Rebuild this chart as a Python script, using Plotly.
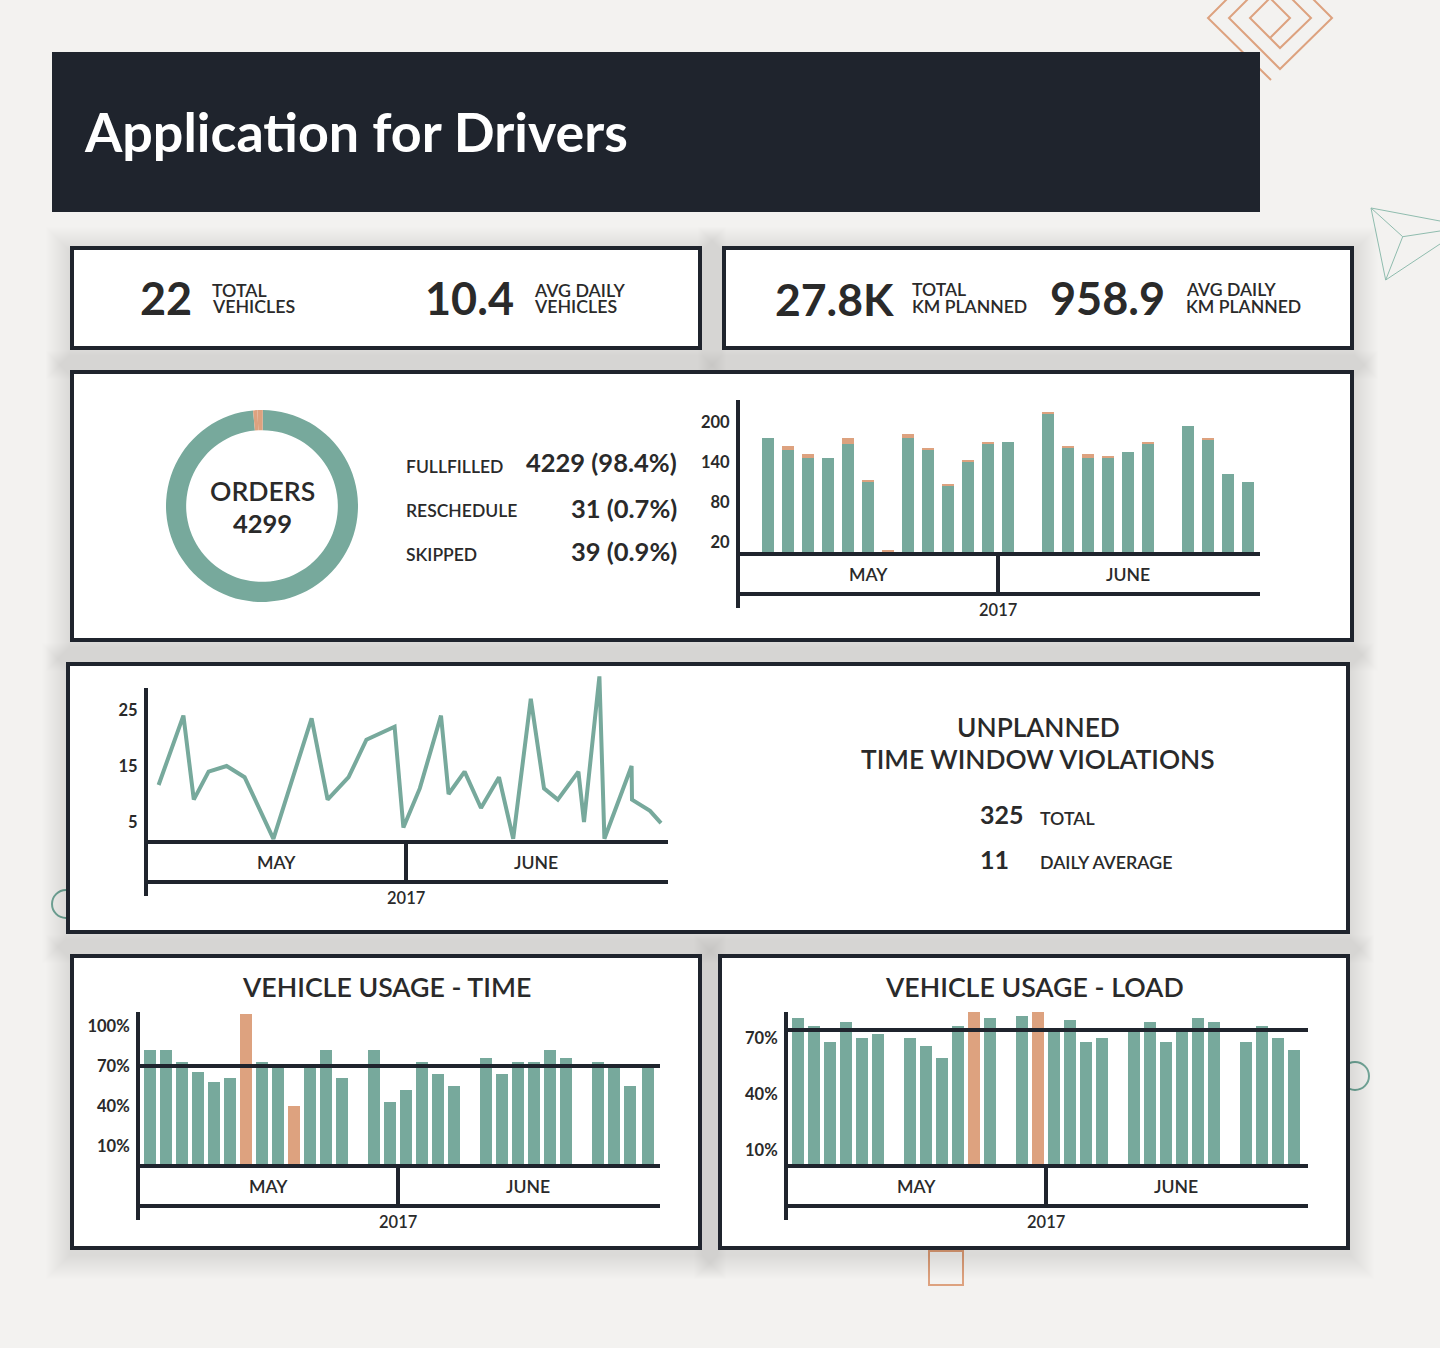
import plotly.graph_objects as go

# ---------- data ----------
order_labels = ["FULLFILLED", "RESCHEDULE", "SKIPPED"]
order_counts = [4229, 31, 39]
order_value_text = ["4229 (98.4%)", "31 (0.7%)", "39 (0.9%)"]

orders_days = list(range(25))
orders_done = [176, 158, 146, 146, 167, 110, 3, 176, 158, 104, 140, 167, 170, None,
               212, 161, 146, 146, 155, 167, None, 194, 173, 122, 110]
orders_other = [0, 6, 6, 0, 9, 3, 5, 6, 3, 3, 3, 3, 0, None,
                3, 3, 6, 3, 0, 3, None, 0, 3, 0, 0]
orders_ticks = [20, 80, 140, 200]

violation_days = [0.53, 1.77, 2.29, 3.03, 3.93, 4.83, 6.27, 8.18, 8.98, 10.03, 10.92, 12.33,
                  12.77, 13.59, 14.65, 15.03, 15.83, 16.65, 17.55, 18.26, 19.14, 19.8, 20.49,
                  21.52, 21.8, 22.57, 22.82, 24.18, 24.2, 25.1, 25.65]
violations = [11.6, 24, 9, 14, 15, 13, 2, 23.5, 9, 13, 19.7, 22, 4, 11, 24, 10, 14, 7.5, 13, 2,
              27, 11, 9, 14, 5, 31, 2, 15, 9, 7, 4.8]
violation_ticks = [5, 15, 25]

usage_time_days = [0, 1, 2, 3, 4, 5, 6, 7, 8, 9, 10, 11, 12, 13, 14, 15, 16, 17, 18, 19, 20,
                   21, 22, 23, 24, 25, 26, 27, 28, 29, 30, 31.12]
usage_time = [82, 82, 73, 65.5, 58, 61, 109, 73, 70, 40, 70, 82, 61, None,
              82, 43, 52, 73, 64, 55, None,
              76, 64, 73, 73, 82, 76, None,
              73, 70, 55, 70]
usage_time_flagged = [6, 9]
usage_time_ticks = [10, 40, 70, 100]
usage_time_target = 70

usage_load_days = list(range(32))
usage_load = [80.7, 76.4, 67.9, 78.6, 70, 72.2, None,
              70, 65.7, 59.3, 76.4, 84, 80.7, None,
              81.8, 84, 74.3, 79.6, 67.9, 70, None,
              74.3, 78.6, 67.9, 74.3, 80.7, 78.6, None,
              67.9, 76.4, 70, 63.6]
usage_load_flagged = [11, 15]
usage_load_ticks = [10, 40, 70]
usage_load_target = 74.3

# ---------- style ----------
W, H = 1440, 1348
BG = "#f3f2f0"
DARK = "#1f242d"
TEAL = "#77a99c"
ORANGE = "#dda27f"
INK = "#2a2a2a"
FONT = "Lato"

def px(x): return x / W
def py(y): return 1 - y / H

shapes, notes = [], []

def rect(x0, y0, x1, y1, fill="rgba(0,0,0,0)", color=None, width=0, layer="below"):
    shapes.append(dict(type="rect", xref="paper", yref="paper", x0=px(x0), x1=px(x1), y0=py(y1), y1=py(y0),
                       fillcolor=fill, line=dict(color=color or "rgba(0,0,0,0)", width=width), layer=layer))

def seg(x0, y0, x1, y1, color=DARK, width=4, layer="above"):
    shapes.append(dict(type="line", xref="paper", yref="paper", x0=px(x0), x1=px(x1), y0=py(y0), y1=py(y1),
                       line=dict(color=color, width=width), layer=layer))

def poly(points, color, width):
    path = "M " + " L ".join(f"{px(x):.5f},{py(y):.5f}" for x, y in points)
    shapes.append(dict(type="path", xref="paper", yref="paper", path=path, layer="below",
                       line=dict(color=color, width=width)))

def circle(cx, cy, r, color, width):
    shapes.append(dict(type="circle", xref="paper", yref="paper", x0=px(cx - r), x1=px(cx + r),
                       y0=py(cy + r), y1=py(cy - r), layer="below", line=dict(color=color, width=width)))

def txt(x, y, s, size, weight=600, anchor="left", color=INK):
    notes.append(dict(x=px(x), y=py(y), xref="paper", yref="paper", text=s, showarrow=False,
                      xanchor=anchor, yanchor="middle", align=anchor, borderpad=0,
                      font=dict(family=FONT, size=size, color=color, weight=weight)))

# decorations (below the panels and their shadows)
poly([(1270, 38), (1290, 18), (1270, -2), (1250, 18), (1280, 48), (1311, 18), (1270, -23), (1229, 18),
      (1280, 69), (1332, 18), (1270, -44), (1208, 18), (1271, 80)], ORANGE, 2)
poly([(1440, 221), (1371, 208), (1385.7, 280), (1440, 244)], "#8fbcae", 1)
poly([(1371, 208), (1402.7, 236.7), (1385.7, 280)], "#8fbcae", 1)
poly([(1402.7, 236.7), (1440, 231)], "#8fbcae", 1)
circle(66, 904, 14, TEAL, 2)
circle(1355, 1076, 14, TEAL, 2)
rect(929, 1251, 963, 1285, color=ORANGE, width=2)

panels = [(70, 246, 702, 350), (722, 246, 1354, 350), (70, 370, 1354, 642),
          (66, 662, 1350, 934), (70, 954, 702, 1250), (718, 954, 1350, 1250)]
for x0, y0, x1, y1 in panels:
    for i in range(1, 25):
        rect(x0 - i, y0 - i + 5, x1 + i, y1 + i + 5, fill="rgba(30,30,30,0.0038)")
for x0, y0, x1, y1 in panels:
    rect(x0 + 2, y0 + 2, x1 - 2, y1 - 2, fill="white", color=DARK, width=4)

# header
rect(52, 52, 1260, 212, fill=DARK)

# text
txt(83, 131, "Application for Drivers", 53.8, 700, color="white")
txt(139, 298, "22", 45, 700)
txt(211, 290, "TOTAL", 17.8)
txt(211, 306, "VEHICLES", 17.8)
txt(424, 298, "10.4", 45, 700)
txt(533, 290, "AVG DAILY", 17.8)
txt(533, 306, "VEHICLES", 17.8)
txt(774, 298, "27.8K", 44.5, 700)
txt(911, 290, "TOTAL", 17.6)
txt(911, 306, "KM PLANNED", 17.6)
txt(1049, 298, "958.9", 45, 700)
txt(1185, 290, "AVG DAILY", 17.6)
txt(1185, 306, "KM PLANNED", 17.6)
txt(262, 491, "ORDERS", 26.6, anchor="center")
txt(262, 523, str(sum(order_counts)), 25.5, 700, anchor="center")
for lab, val, yl, yv in zip(order_labels, order_value_text, [466, 510, 554], [462.5, 507.5, 550.5]):
    txt(405, yl, lab, 17.5)
    txt(678, yv, val, 25.5, 700, anchor="right")
txt(1038, 727, "UNPLANNED", 26.3, anchor="center")
txt(1038, 759, "TIME WINDOW VIOLATIONS", 26.3, anchor="center")
txt(979, 814.5, "325", 25, 700)
txt(1039, 818, "TOTAL", 17.8)
txt(979, 858.5, "11", 25, 700)
txt(1039, 862, "DAILY AVERAGE", 17.8)
txt(386, 987, "VEHICLE USAGE - TIME", 26.7, anchor="center")
txt(1034, 987, "VEHICLE USAGE - LOAD", 26.7, anchor="center")

def frame(left, top, base):
    """Month / year band under a chart whose plot starts at `left`."""
    axis = left - 2
    seg(axis, top, axis, base + 54)
    seg(axis, base, left + 520, base)
    seg(axis, base + 40, left + 520, base + 40)
    seg(left + 258, base, left + 258, base + 40)
    txt(left + 128, base + 20, "MAY", 17.6, anchor="center")
    txt(left + 388, base + 20, "JUNE", 17.6, anchor="center")
    txt(left + 258, base + 56, "2017", 16.5, anchor="center")

fig = go.Figure()

# donut
fig.add_trace(go.Pie(values=order_counts, labels=order_labels, hole=0.79, sort=False, direction="clockwise",
                     rotation=0.5, textinfo="none", showlegend=False,
                     marker=dict(colors=[TEAL, ORANGE, ORANGE], line=dict(width=0)),
                     domain=dict(x=[px(166), px(358)], y=[py(602), py(410)])))

def axes(n, left, base, top, xlo, xhi, ylo, yhi, ticks, suffix=""):
    xname, yname = f"xaxis{n}", f"yaxis{n}"
    fig.update_layout({
        xname: dict(domain=[px(left), px(left + 520)], range=[xlo, xhi], visible=False, anchor=f"y{n}"),
        yname: dict(domain=[py(base), py(top)], range=[ylo, yhi], anchor=f"x{n}", showgrid=False, zeroline=False,
                    showline=False, tickmode="array", tickvals=ticks, ticktext=[f"{t}{suffix}" for t in ticks],
                    ticks="outside", ticklen=6, tickcolor="rgba(0,0,0,0)",
                    tickfont=dict(family=FONT, size=16.5, color=INK, weight=700)),
    })

def scale(tick_lo, y_lo, tick_hi, y_hi, y):
    return tick_lo + (y_lo - y) * (tick_hi - tick_lo) / (y_lo - y_hi)

# orders per day
base = 554
axes(1, 740, base, 400, (740 - 768) / 20, (1260 - 768) / 20,
     scale(20, 542, 200, 422, base), scale(20, 542, 200, 422, 400), orders_ticks)
fig.add_trace(go.Bar(x=orders_days, y=orders_done, width=0.6, marker=dict(color=TEAL, line=dict(width=0)),
                     xaxis="x1", yaxis="y1", showlegend=False))
fig.add_trace(go.Bar(x=orders_days, y=orders_other, width=0.6, marker=dict(color=ORANGE, line=dict(width=0)),
                     xaxis="x1", yaxis="y1", showlegend=False))
frame(740, 400, base)

# violations line
base = 842
axes(2, 148, base, 670, 0, 26, scale(5, 822, 25, 710, base), scale(5, 822, 25, 710, 670), violation_ticks)
fig.add_trace(go.Scatter(x=violation_days, y=violations, mode="lines", line=dict(color=TEAL, width=4),
                         xaxis="x2", yaxis="y2", showlegend=False))
frame(148, 688, base)

def usage(n, left, days, values, flagged, ticks, target, tick_lo_y, tick_hi_y, tick_hi, top_y, first, pitch):
    base_y = 1166
    ylo = scale(10, tick_lo_y, tick_hi, tick_hi_y, base_y)
    yhi = scale(10, tick_lo_y, tick_hi, tick_hi_y, top_y)
    axes(n, left, base_y, top_y, (left - first) / pitch, (left + 520 - first) / pitch, ylo, yhi, ticks, "%")
    colors = [ORANGE if i in flagged else TEAL for i in range(len(days))]
    heights = [None if v is None else v - ylo for v in values]
    fig.add_trace(go.Bar(x=days, y=heights, base=ylo, width=12 / pitch,
                         marker=dict(color=colors, line=dict(width=0)),
                         xaxis=f"x{n}", yaxis=f"y{n}", showlegend=False))
    shapes.append(dict(type="line", xref=f"x{n} domain", yref=f"y{n}", x0=-2 / 520, x1=1, y0=target, y1=target,
                       line=dict(color=DARK, width=4), layer="above"))
    frame(left, 1012, base_y)

usage(3, 140, usage_time_days, usage_time, usage_time_flagged, usage_time_ticks, usage_time_target,
      1146, 1026, 100, 1012, 150, 16)
usage(4, 788, usage_load_days, usage_load, usage_load_flagged, usage_load_ticks, usage_load_target,
      1150, 1038, 70, 1012, 798, 16)

fig.update_layout(width=W, height=H, autosize=False, margin=dict(l=0, r=0, t=0, b=0), barmode="stack",
                  paper_bgcolor=BG, plot_bgcolor="rgba(0,0,0,0)", shapes=shapes, annotations=notes,
                  hovermode=False, showlegend=False, font=dict(family=FONT, color=INK))

fig.write_html("out.html", config=dict(displayModeBar=False),
               post_script="document.body.style.margin='0';document.body.style.overflow='hidden';")
